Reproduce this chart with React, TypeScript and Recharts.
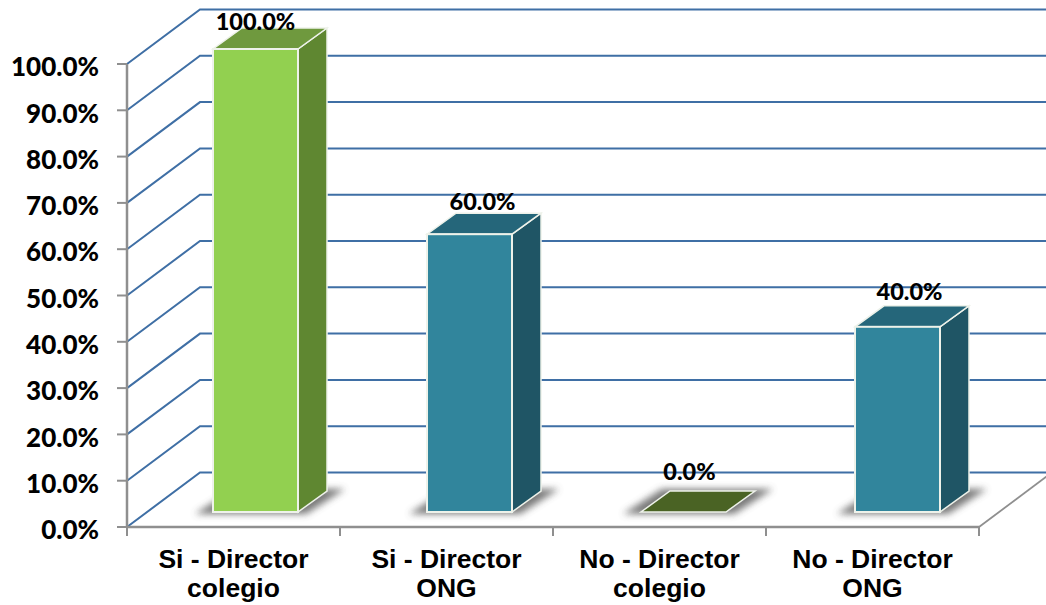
import { BarChart, Bar, XAxis, YAxis, CartesianGrid, LabelList } from "recharts";

const categories = ["Si - Director colegio", "Si - Director ONG", "No - Director colegio", "No - Director ONG"];
const shares = [100, 60, 0, 40];
const yTicks = [0, 10, 20, 30, 40, 50, 60, 70, 80, 90, 100];

const chartData = categories.map((name, i) => ({ name, share: shares[i] }));

// front, side, top
const PALETTE = [
  ["#92d050", "#5f8731", "#6f993e"],
  ["#31859c", "#1f5565", "#25667a"],
  ["#4a6324", "#4a6324", "#4a6324"],
  ["#31859c", "#1f5565", "#25667a"],
];

// hand placed offsets of the value labels, same as the original slide
const LABEL_NUDGE = [
  [22, -43],
  [36, -48],
  [30, -56],
  [37, -51],
];

const WIDTH = 1046;
const HEIGHT = 605;
const MARGIN = { top: 64, right: 67, bottom: 0, left: 27 };
const BAND = (WIDTH - 127 - MARGIN.right) / categories.length;

const WALL_DX = 73;
const WALL_DY = -54.5;
const BAR_SHIFT_X = 22;
const BAR_SHIFT_Y = -15;
const BAR_DEPTH_X = 29;
const BAR_DEPTH_Y = -21;
const AXIS_GREY = "#8f8f8f";
const GRID_BLUE = "#3f6fa5";
const EDGE = "#eef2ea";

const poly = (pts: number[][]) => pts.map((p) => p.join(",")).join(" ");

function WallLine(props: any) {
  const { x1, x2, y1, y, height, index } = props;
  const isFloor = y1 >= y + height - 1;
  return (
    <g key={index}>
      <polyline
        points={poly([
          [x1, y1],
          [x1 + WALL_DX, y1 + WALL_DY],
          [WIDTH, y1 + WALL_DY],
        ])}
        fill="none"
        stroke={GRID_BLUE}
        strokeWidth={2}
      />
      {isFloor && (
        <line x1={x2} y1={y1} x2={x2 + WALL_DX} y2={y1 + WALL_DY} stroke={AXIS_GREY} strokeWidth={1.8} />
      )}
    </g>
  );
}

function Bar3D(props: any) {
  const { x, y, width, height, index } = props;
  const [front, side, top] = PALETTE[index];
  // the bars of the original sit a touch wider apart than the category band
  const fx = x + BAR_SHIFT_X + index;
  const fy = y + BAR_SHIFT_Y;
  const fb = fy + height;
  const fr = fx + width;
  const dx = BAR_DEPTH_X;
  const dy = BAR_DEPTH_Y;
  return (
    <g>
      <defs>
        <filter id={`foot-${index}`} x="-30%" y="-80%" width="160%" height="260%">
          <feGaussianBlur stdDeviation="3.5" />
        </filter>
      </defs>
      <polygon
        points={poly([
          [fx - 18, fb + 2],
          [fr + 8, fb + 2],
          [fr + dx + 18, fb + dy - 2],
          [fx + dx - 8, fb + dy - 2],
        ])}
        fill="#4d4d4d"
        opacity={0.75}
        filter={`url(#foot-${index})`}
      />
      {height > 0 && (
        <polygon
          points={poly([
            [fr, fy],
            [fr + dx, fy + dy],
            [fr + dx, fb + dy],
            [fr, fb],
          ])}
          fill={side}
          stroke={EDGE}
          strokeWidth={1.5}
        />
      )}
      <polygon
        points={poly([
          [fx, fy],
          [fr, fy],
          [fr + dx, fy + dy],
          [fx + dx, fy + dy],
        ])}
        fill={top}
        stroke={EDGE}
        strokeWidth={1.5}
      />
      {height > 0 && (
        <rect x={fx} y={fy} width={width} height={height} fill={front} stroke={EDGE} strokeWidth={2} />
      )}
    </g>
  );
}

function ValueLabel(props: any) {
  const { x, y, width, value, index } = props;
  const [nx, ny] = LABEL_NUDGE[index];
  return (
    <text
      x={x + width / 2 + nx}
      y={y + ny}
      textAnchor="middle"
      dominantBaseline="central"
      fontFamily="Lato"
      fontWeight={900}
      fontSize={23.5}
      fill="#000"
    >
      {Number(value).toFixed(1)}%
    </text>
  );
}

function CategoryTick(props: any) {
  const { x, y, payload } = props;
  const name: string = payload.value;
  const cut = name.lastIndexOf(" ");
  return (
    <g>
      <line x1={x - BAND / 2} y1={y} x2={x - BAND / 2} y2={y + 9} stroke={AXIS_GREY} strokeWidth={2} />
      <line x1={x + BAND / 2} y1={y} x2={x + BAND / 2} y2={y + 9} stroke={AXIS_GREY} strokeWidth={2} />
      <text
        textAnchor="middle"
        fontFamily="Liberation Sans"
        fontWeight={700}
        fontSize={26.5}
        fill="#000"
      >
        <tspan x={x} y={y + 41}>
          {name.slice(0, cut)}
        </tspan>
        <tspan x={x} y={y + 70}>
          {name.slice(cut + 1)}
        </tspan>
      </text>
    </g>
  );
}

export default function App() {
  return (
    <div style={{ position: "absolute", left: 0, top: 0, background: "#fff" }}>
      <BarChart width={WIDTH} height={HEIGHT} data={chartData} margin={MARGIN} barSize={85}>
        <CartesianGrid vertical={false} horizontal={(p: any) => <WallLine {...p} />} />
        <XAxis
          dataKey="name"
          height={78}
          interval={0}
          tickLine={false}
          tickSize={0}
          tickMargin={0}
          axisLine={{ stroke: AXIS_GREY, strokeWidth: 2.5 }}
          tick={(p: any) => <CategoryTick {...p} />}
        />
        <YAxis
          width={100}
          domain={[0, 100]}
          ticks={yTicks}
          tickSize={10}
          tickMargin={18}
          interval={0}
          tickFormatter={(v: number) => `${v.toFixed(1)}%`}
          axisLine={{ stroke: AXIS_GREY, strokeWidth: 2.5 }}
          tickLine={{ stroke: AXIS_GREY, strokeWidth: 2 }}
          tick={{ fill: "#000", fontFamily: "Lato", fontWeight: 900, fontSize: 26, dy: 3 }}
        />
        <Bar dataKey="share" isAnimationActive={false} shape={(p: any) => <Bar3D {...p} />}>
          <LabelList dataKey="share" content={(p: any) => <ValueLabel {...p} />} />
        </Bar>
      </BarChart>
    </div>
  );
}
